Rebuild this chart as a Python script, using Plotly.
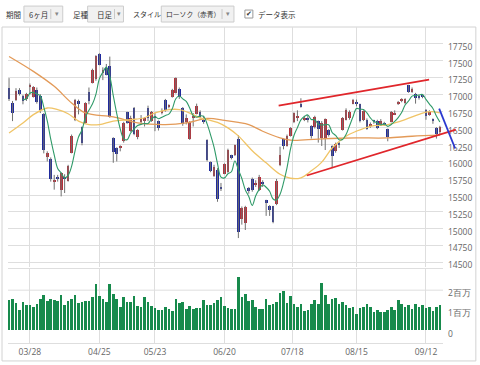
import plotly.graph_objects as go
import pandas as pd

# ---------------- data ----------------
dates = ["03/17","03/18","03/22","03/23","03/24","03/25","03/28","03/29","03/30","03/31",
         "04/01","04/04","04/05","04/06","04/07","04/08","04/11","04/12","04/13","04/14",
         "04/15","04/18","04/19","04/20","04/21","04/22","04/25","04/26","04/27","04/28",
         "05/02","05/06","05/09","05/10","05/11","05/12","05/13","05/16","05/17","05/18",
         "05/19","05/20","05/23","05/24","05/25","05/26","05/27","05/30","05/31","06/01",
         "06/02","06/03","06/06","06/07","06/08","06/09","06/10","06/13","06/14","06/15",
         "06/16","06/17","06/20","06/21","06/22","06/23","06/24","06/27","06/28","06/29",
         "06/30","07/01","07/04","07/05","07/06","07/07","07/08","07/11","07/12","07/13",
         "07/14","07/15","07/19","07/20","07/21","07/22","07/25","07/26","07/27","07/28",
         "07/29","08/01","08/02","08/03","08/04","08/05","08/08","08/09","08/10","08/12",
         "08/15","08/16","08/17","08/18","08/19","08/22","08/23","08/24","08/25","08/26",
         "08/29","08/30","08/31","09/01","09/02","09/05","09/06","09/07","09/08","09/09",
         "09/12","09/13","09/14","09/15","09/16"]

opens = [17090,16870,16920,17060,16970,16930,17120,16960,17070,16980,
         16710,16060,16040,15700,15760,15580,15760,15710,16130,16610,
         16900,16510,16570,17040,17170,17220,17600,17330,17390,17420,
         16350,16200,16210,16300,16730,16450,16790,16370,16580,16600,
         16800,16600,16660,16600,16730,16920,16820,16960,17020,17080,
         16800,16580,16340,16660,16710,16740,16620,16320,15990,15780,
         15880,15620,15820,15840,16090,16090,16330,15140,15090,15600,
         15740,15650,15580,15690,15420,15340,15330,15360,15940,16330,
         16230,16380,16580,16660,16860,16620,16630,16520,16510,16600,
         16350,16330,16470,16230,16160,16270,16470,16620,16650,16860,
         16880,16850,16620,16620,16530,16600,16600,16560,16570,16480,
         16590,16700,16860,16900,16870,17130,17040,17000,16960,16975,
         16770,16700,16630,16500,16440]

highs = [17240,16900,17090,17090,16990,17020,17160,17120,17100,17000,
         16720,16150,16060,15800,15800,15840,15810,15950,16400,16930,
         16920,16520,16880,17100,17380,17580,17610,17400,17450,17560,
         16360,16210,16240,16590,16740,16680,16810,16480,16690,16660,
         16830,16750,16720,16610,16790,16930,16850,17080,17250,17100,
         16810,16700,16600,16720,16860,16760,16680,16330,16000,15950,
         15900,15680,15970,16190,16100,16250,16390,15330,15340,15620,
         15760,15720,15800,15720,15430,15350,15340,15740,16220,16340,
         16400,16510,16730,16760,16940,16680,16690,16540,16680,16610,
         16600,16640,16480,16240,16280,16290,16660,16790,16760,16930,
         16920,16860,16760,16640,16580,16620,16620,16630,16590,16490,
         16750,16760,16900,16940,16940,17140,17100,17020,16990,16990,
         16780,16760,16640,16510,16530]

lows = [16900,16600,16900,16980,16850,16900,17000,16950,16860,16720,
        16120,16000,15700,15580,15700,15480,15530,15700,16120,16600,
        16700,16240,16560,16850,17160,17200,17430,17210,17280,16650,
        15980,16000,16150,16280,16560,16440,16390,16330,16550,16520,
        16600,16590,16450,16460,16700,16740,16790,16950,17010,16930,
        16530,16550,16320,16520,16700,16640,16560,16000,15840,15770,
        15400,15560,15810,15830,16030,16080,14860,15060,14980,15520,
        15550,15620,15560,15620,15190,15190,15080,15350,15930,16180,
        16220,16370,16570,16600,16800,16600,16580,16340,16490,16280,
        16230,16170,16370,15900,16130,16200,16460,16610,16620,16850,
        16820,16580,16600,16470,16500,16560,16480,16540,16530,16300,
        16580,16690,16840,16880,16850,17020,17020,16860,16920,16940,
        16620,16680,16560,16340,16400]

closes = [16936,16724,17048,17000,16892,17002,17134,17103,16878,16758,
          16164,16123,15732,15715,15749,15821,15751,15928,16381,16911,
          16848,16275,16874,16906,17363,17572,17440,17353,17290,16666,
          16147,16106,16216,16565,16579,16646,16412,16467,16652,16644,
          16646,16736,16654,16498,16757,16772,16834,17068,17234,16955,
          16562,16642,16580,16675,16830,16668,16601,16019,15859,15919,
          15434,15599,15965,16169,16065,16238,14952,15309,15323,15566,
          15575,15682,15775,15669,15378,15276,15106,15708,16095,16231,
          16385,16497,16723,16681,16810,16627,16620,16383,16664,16476,
          16569,16635,16391,16083,16254,16254,16650,16764,16735,16919,
          16869,16596,16745,16486,16545,16598,16497,16597,16555,16360,
          16737,16725,16887,16926,16925,17037,17081,16940,16958,16965,
          16672,16729,16614,16405,16519]

volumes_m = [1.49,1.54,1.36,1.03,1.41,1.24,1.24,1.16,1.29,1.57,
             1.77,1.44,1.57,1.49,1.46,1.74,1.27,1.44,1.54,1.74,
             1.36,1.41,1.46,1.46,1.66,2.31,1.71,1.57,1.41,2.31,
             1.82,1.57,1.16,1.66,1.41,1.38,1.71,1.21,1.16,1.66,
             1.38,1.21,1.13,1.03,1.03,1.16,1.08,0.96,1.56,1.33,
             1.41,1.08,1.19,1.08,1.13,1.13,1.52,1.27,1.27,1.33,
             1.52,1.66,1.19,1.13,1.08,1.05,2.64,1.64,1.80,1.47,
             1.50,1.17,1.06,1.06,1.56,1.26,1.28,1.39,1.83,1.97,
             1.34,1.72,1.28,1.17,1.31,0.98,1.01,1.28,1.52,1.31,
             2.35,1.75,1.31,1.56,1.59,1.28,1.39,1.23,1.11,1.17,
             0.81,1.09,1.17,1.28,1.17,0.90,1.03,0.90,0.93,1.01,
             1.14,1.03,1.50,1.28,1.14,1.23,1.06,1.31,1.14,1.23,
             1.09,1.17,0.98,1.14,1.23]

# 25-day and 75-day moving averages (day index, value)
ma25_idx = [0, 4, 7, 11, 14, 17, 20, 23, 26, 30, 35, 39, 42, 46, 49, 52, 55, 57, 60, 63,
            66, 70, 74, 78, 81, 84, 87, 90, 93, 97, 100, 104, 109, 114, 118, 121, 124]
ma25_val = [16424, 16572, 16697, 16795, 16770, 16710, 16600, 16548, 16548, 16600, 16622,
            16650, 16721, 16771, 16771, 16720, 16647, 16625, 16580, 16500, 16380, 16160,
            15980, 15810, 15750, 15757, 15860, 15990, 16200, 16375, 16450, 16523, 16548,
            16622, 16700, 16740, 16722]
ma75_idx = [0, 7, 13, 18, 22, 30, 37, 45, 51, 57, 62, 66, 69, 73, 78, 81, 85, 90, 95,
            100, 109, 116, 124]
ma75_val = [17562, 17340, 17117, 16870, 16721, 16662, 16573, 16548, 16573, 16640, 16612,
            16580, 16548, 16449, 16350, 16316, 16320, 16335, 16345, 16350, 16350, 16375, 16390]

tick_labels = ["03/28", "04/25", "05/23", "06/20", "07/18", "08/15", "09/12"]
price_ticks = list(range(14500, 18001, 250))
vol_ticks = [0, 1_000_000, 2_000_000]
vol_tick_text = ["0", "1百万", "2百万"]

# hand-drawn trend lines (day index, price)
upper_channel = [(77.6, 16830), (120.9, 17216)]
lower_channel = [(85.7, 15791), (128.6, 16474)]
down_arrow = [(123.8, 16785), (128.4, 16192)]

# ---------------- derived ----------------
n = len(dates)
idx = list(range(n))
volumes = [v * 1_000_000 for v in volumes_m]
sma5 = pd.Series(closes).rolling(5).mean()


def tick_position(label):
    if label in dates:
        return dates.index(label)
    later = next(i for i, d in enumerate(dates) if d > label)
    return later - 0.5


tick_pos = [tick_position(t) for t in tick_labels]

RED = "#b8303a"
BLUE = "#1f2a9c"
body_base = [min(o, c) for o, c in zip(opens, closes)]
body_h = [max(abs(c - o), 14) for o, c in zip(opens, closes)]
body_col = [RED if c >= o else BLUE for o, c in zip(opens, closes)]

wx, wy = [], []
for i, h, l in zip(idx, highs, lows):
    wx += [i, i, None]
    wy += [l, h, None]

# ---------------- layout geometry ----------------
W, H = 480, 365
L, R, T, B = 8, 445, 27, 344
X_RANGE = [-0.3, 124.9]
P_RANGE = [14426, 18000]
P_DOM = [(B - 268) / (B - T), 1.0]
V_RANGE = [-617_000, 3_037_000]
V_DOM = [0.0, (B - 270) / (B - T)]


def px(x):
    return (x - L) / (R - L)


def py(y):
    return (B - y) / (B - T)


def to_paper(xi, p):
    fx = (xi - X_RANGE[0]) / (X_RANGE[1] - X_RANGE[0])
    fy = P_DOM[0] + (p - P_RANGE[0]) / (P_RANGE[1] - P_RANGE[0]) * (P_DOM[1] - P_DOM[0])
    return fx, fy


fig = go.Figure()

# wicks
fig.add_trace(go.Scatter(x=wx, y=wy, mode="lines", line=dict(color="#707070", width=1),
                         hoverinfo="skip", xaxis="x", yaxis="y", showlegend=False))
# bodies
fig.add_trace(go.Bar(x=idx, y=body_h, base=body_base, marker=dict(color=body_col, line=dict(width=0)),
                     width=0.78, xaxis="x", yaxis="y", showlegend=False))
# moving averages
fig.add_trace(go.Scatter(x=ma75_idx, y=ma75_val, mode="lines", line=dict(color="#e39a58", width=1.3, shape="spline"),
                         xaxis="x", yaxis="y", showlegend=False))
fig.add_trace(go.Scatter(x=ma25_idx, y=ma25_val, mode="lines", line=dict(color="#f0c466", width=1.3, shape="spline"),
                         xaxis="x", yaxis="y", showlegend=False))
fig.add_trace(go.Scatter(x=idx, y=sma5, mode="lines", line=dict(color="#2f9a68", width=1.1, shape="spline"),
                         xaxis="x", yaxis="y", showlegend=False))
# volume
fig.add_trace(go.Bar(x=idx, y=volumes, marker=dict(color="#178a4c", line=dict(width=0)), width=0.76,
                     xaxis="x2", yaxis="y2", showlegend=False))

tickfont = dict(family="Open Sans", size=8.5, color="#666")
GRID = "#dedede"

fig.update_layout(
    width=W, height=H, margin=dict(l=L, r=W - R, t=T, b=H - B),
    paper_bgcolor="white", plot_bgcolor="white", showlegend=False,
    xaxis=dict(domain=[0, 1], range=X_RANGE, anchor="y", tickvals=tick_pos, showticklabels=False,
               showgrid=True, gridcolor=GRID, zeroline=False, ticks=""),
    yaxis=dict(domain=P_DOM, range=P_RANGE, side="right", tickvals=price_ticks,
               ticktext=[("" if v == 18000 else str(v)) for v in price_ticks],
               showgrid=True, gridcolor=GRID, zeroline=False, ticks="", tickfont=tickfont,
               ticklabelshift=3, ticklabelstandoff=4),
    xaxis2=dict(domain=[0, 1], range=X_RANGE, anchor="y2", matches="x", tickvals=tick_pos,
                ticktext=tick_labels, showgrid=True, gridcolor=GRID, zeroline=False, ticks="",
                tickfont=tickfont, showline=True, mirror=True, linecolor=GRID, ticklabelstandoff=1),
    yaxis2=dict(domain=V_DOM, range=V_RANGE, side="right", tickvals=vol_ticks, ticktext=vol_tick_text,
                showgrid=False, zeroline=False, ticks="", tickfont=tickfont,
                ticklabelshift=3, ticklabelstandoff=4),
    bargap=0,
)

shapes = []
# outer frame
shapes.append(dict(type="rect", xref="paper", yref="paper", x0=px(2), x1=px(478), y0=py(362), y1=py(27),
                   line=dict(color="#d2d2d2", width=1), layer="below"))
# volume 2M grid line
shapes.append(dict(type="line", xref="paper", yref="y2", x0=0, x1=1, y0=2_000_000, y1=2_000_000,
                   line=dict(color=GRID, width=1), layer="below"))
# trend lines
for seg, col in [(upper_channel, "#e0262b"), (lower_channel, "#e0262b"), (down_arrow, "#2b39d0")]:
    (x0, y0), (x1, y1) = to_paper(*seg[0]), to_paper(*seg[1])
    shapes.append(dict(type="line", xref="paper", yref="paper", x0=x0, y0=y0, x1=x1, y1=y1,
                       line=dict(color=col, width=1.8), layer="above"))

# toolbar
annos = []


def label(x, text, size=7.5, color="#333"):
    annos.append(dict(xref="paper", yref="paper", x=px(x), y=py(14), text=text, showarrow=False,
                      xanchor="left", yanchor="middle", xshift=0,
                      font=dict(family="Noto Sans CJK JP", size=size, color=color)))


for (bx0, bx1, sep) in [(24, 63, 51), (88, 124, 115), (162, 235, 223)]:
    shapes.append(dict(type="rect", xref="paper", yref="paper", x0=px(bx0), x1=px(bx1), y0=py(22), y1=py(6),
                       fillcolor="#f1f1f1", line=dict(color="#cccccc", width=1)))
    shapes.append(dict(type="line", xref="paper", yref="paper", x0=px(sep), x1=px(sep), y0=py(19), y1=py(9),
                       line=dict(color="#c8c8c8", width=1)))
    annos.append(dict(xref="paper", yref="paper", x=px((sep + bx1) / 2), y=py(14), text="▾", showarrow=False,
                      xanchor="center", yanchor="middle", font=dict(family="DejaVu Sans", size=7, color="#888")))

label(4, "期間")
label(27, "6ヶ月")
label(71, "足種")
label(95, "日足")
label(132, "スタイル", size=7)
label(165, "ローソク（赤青）", size=6.8)
label(257, "データ表示")
shapes.append(dict(type="rect", xref="paper", yref="paper", x0=px(246), x1=px(254), y0=py(18), y1=py(10),
                   fillcolor="white", line=dict(color="#999", width=1)))
annos.append(dict(xref="paper", yref="paper", x=px(250), y=py(14), text="✔", showarrow=False,
                  xanchor="center", yanchor="middle", font=dict(family="DejaVu Sans", size=7, color="#333")))

fig.update_layout(shapes=shapes, annotations=annos)
fig.write_html("out.html")
